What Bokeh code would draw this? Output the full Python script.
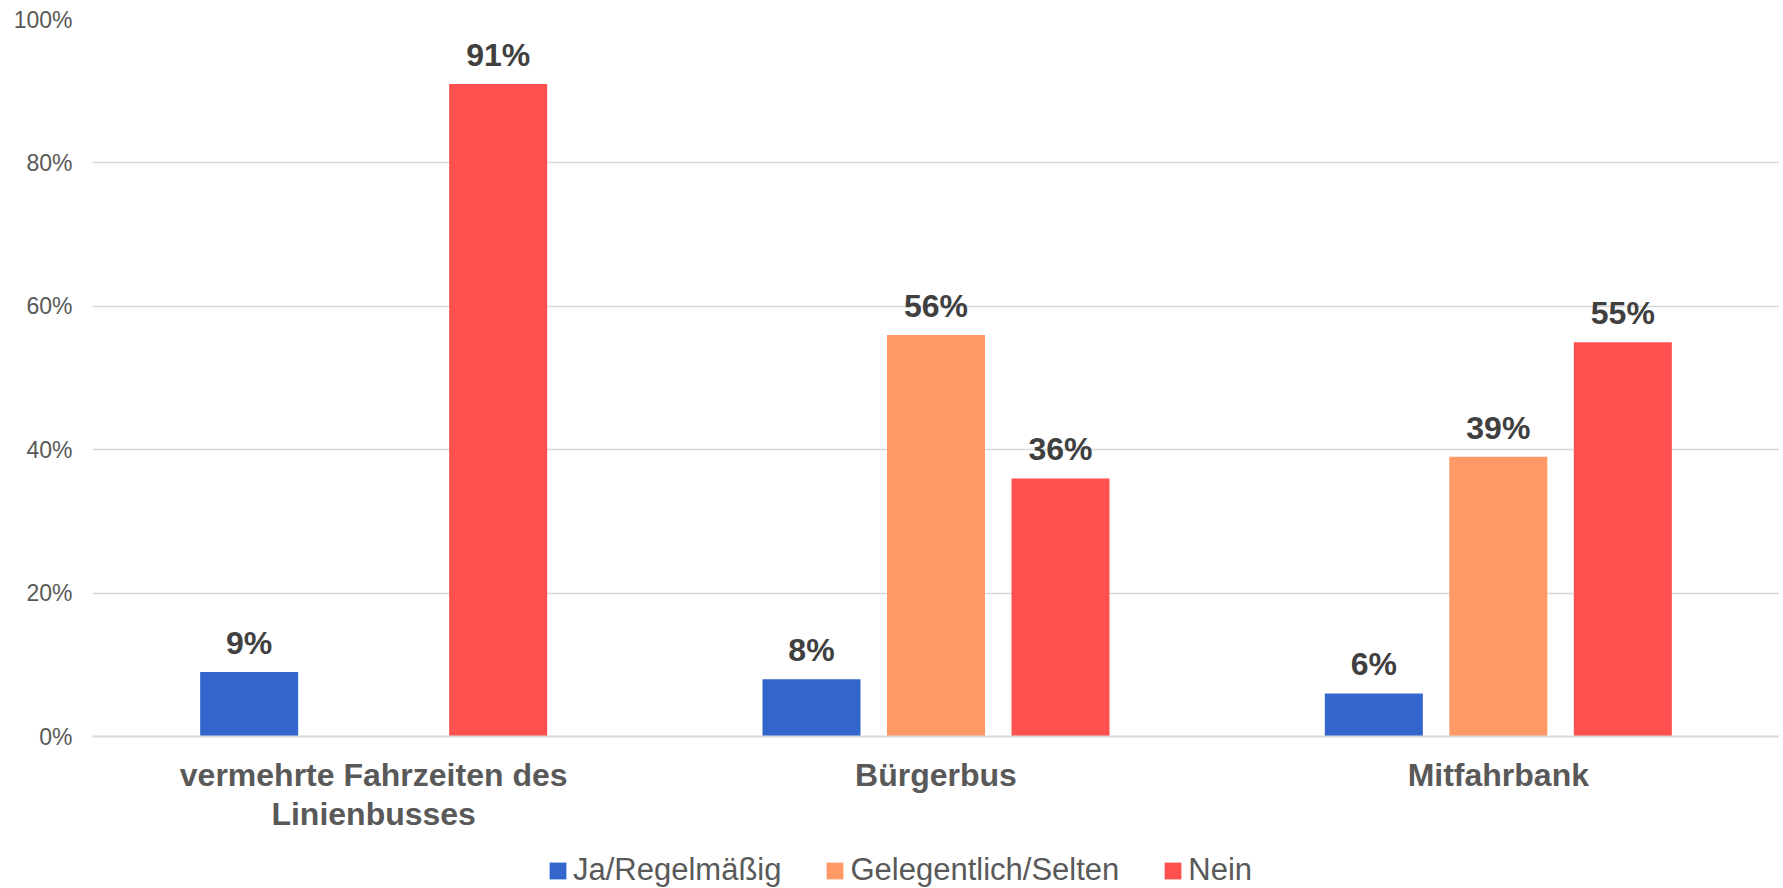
from bokeh.plotting import figure
from bokeh.models import ColumnDataSource, NumeralTickFormatter, Legend, LegendItem, FixedTicker, LinearAxis, Range1d
from bokeh.layouts import column
from bokeh.transform import dodge
from bokeh.core.properties import value
from bokeh.embed import file_html
from bokeh.resources import INLINE

categories = ["vermehrte Fahrzeiten des Linienbusses", "Bürgerbus", "Mitfahrbank"]
label_line1 = ["vermehrte Fahrzeiten des", "Bürgerbus", "Mitfahrbank"]
label_line2 = ["Linienbusses", "", ""]
series = ["Ja/Regelmäßig", "Gelegentlich/Selten", "Nein"]
ja = [0.09, 0.08, 0.06]
gelegentlich = [None, 0.56, 0.39]
nein = [0.91, 0.36, 0.55]
colors = ["#3366CC", "#FF9966", "#FF5050"]
y_ticks = [0, 0.2, 0.4, 0.6, 0.8, 1.0]

FONT = "Liberation Sans"
W = 1779

centers = [i + 0.5 for i in range(len(categories))]

p = figure(x_range=Range1d(0, len(categories)), y_range=Range1d(0, 1.0),
           width=W, height=840, output_backend="svg", toolbar_location=None,
           x_axis_type=None,
           min_border_left=92, min_border_right=0, min_border_top=19, min_border_bottom=104)
p.outline_line_color = None
p.background_fill_color = "white"
p.border_fill_color = "white"

offsets = [-0.2214, 0.0, 0.2214]
bw = 0.1743
all_vals = [ja, gelegentlich, nein]
for name, vals, off, col in zip(series, all_vals, offsets, colors):
    xs, ys, labs = [], [], []
    for c, v in zip(centers, vals):
        if v is None:
            continue
        xs.append(c); ys.append(v); labs.append(f"{round(v*100)}%")
    src = ColumnDataSource(dict(xc=xs, val=ys, lab=labs))
    p.vbar(x=dodge("xc", off), top="val", width=bw, source=src,
           fill_color=col, line_color=None)
    p.text(x=dodge("xc", off), y="val", text="lab", source=src,
           text_align="center", text_baseline="alphabetic", y_offset=-29,
           text_font=value(FONT), text_font_style="bold", text_font_size="32px",
           text_color="#404040")

def style_x(ax, standoff, lines):
    ax.ticker = FixedTicker(ticks=centers)
    ax.major_label_overrides = {c: t for c, t in zip(centers, lines)}
    ax.major_tick_line_color = None
    ax.minor_tick_line_color = None
    ax.major_tick_out = 0
    ax.major_tick_in = 0
    ax.major_label_standoff = standoff
    ax.major_label_text_font = FONT
    ax.major_label_text_font_style = "bold"
    ax.major_label_text_font_size = "32px"
    ax.major_label_text_color = "#595959"

ax1 = LinearAxis()
style_x(ax1, 20, label_line1)
ax1.axis_line_color = "#D9D9D9"
ax1.axis_line_width = 2
p.add_layout(ax1, "below")

ax2 = LinearAxis()
style_x(ax2, 0, label_line2)
ax2.axis_line_color = None
p.add_layout(ax2, "below")

p.yaxis.ticker = FixedTicker(ticks=y_ticks)
p.yaxis.formatter = NumeralTickFormatter(format="0%")
p.yaxis.axis_line_color = None
p.yaxis.major_tick_line_color = None
p.yaxis.minor_tick_line_color = None
p.yaxis.major_tick_out = 0
p.yaxis.major_label_standoff = 20
p.yaxis.major_label_text_font = FONT
p.yaxis.major_label_text_font_size = "23px"
p.yaxis.major_label_text_color = "#595959"

p.xgrid.grid_line_color = None
p.ygrid.grid_line_color = "#D9D9D9"
p.ygrid.grid_line_width = 1.5
p.ygrid.ticker = FixedTicker(ticks=y_ticks)

# legend strip
lp = figure(width=W, height=48, output_backend="svg", toolbar_location=None,
            x_axis_type=None, y_axis_type=None, x_range=Range1d(0, 1), y_range=Range1d(0, 1),
            min_border_left=0, min_border_right=0, min_border_top=0, min_border_bottom=0)
lp.outline_line_color = None
lp.grid.visible = False
lrs = [lp.vbar(x=[-10], top=[0], width=0.1, fill_color=c, line_color=None) for c in colors]
legend = Legend(items=[LegendItem(label=s, renderers=[r]) for s, r in zip(series, lrs)],
                orientation="horizontal", location=(455, 0))
legend.border_line_color = None
legend.background_fill_alpha = 0
legend.label_text_font = FONT
legend.label_text_font_size = "31px"
legend.label_text_color = "#595959"
legend.glyph_width = 21
legend.glyph_height = 21
legend.label_standoff = 5
legend.spacing = 43
legend.padding = 0
legend.margin = 0
lp.add_layout(legend, "center")

layout = column(p, lp, spacing=0)
open("out.html", "w").write(file_html(layout, INLINE))
